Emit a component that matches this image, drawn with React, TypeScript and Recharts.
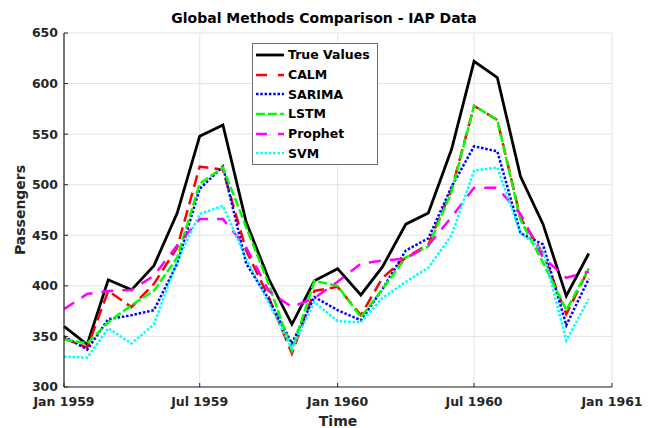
import { CartesianGrid, Line, LineChart, XAxis, YAxis } from "recharts";

const months = [
  "1959-01", "1959-02", "1959-03", "1959-04", "1959-05", "1959-06",
  "1959-07", "1959-08", "1959-09", "1959-10", "1959-11", "1959-12",
  "1960-01", "1960-02", "1960-03", "1960-04", "1960-05", "1960-06",
  "1960-07", "1960-08", "1960-09", "1960-10", "1960-11", "1960-12",
];

const trueValues = [360, 342, 406, 396, 420, 472, 548, 559, 463, 407, 362, 405, 417, 391, 419, 461, 472, 535, 622, 606, 508, 461, 390, 432];
const calm = [348, 339, 395, 379, 402, 438, 518, 515, 435, 389, 333, 395, 399, 371, 408, 428, 441, 495, 578, 564, 467, 432, 372, 417];
const sarima = [350, 337, 367, 371, 376, 422, 496, 518, 422, 387, 343, 389, 376, 366, 397, 435, 447, 498, 538, 533, 452, 441, 361, 407];
const lstm = [347, 343, 364, 381, 395, 428, 501, 517, 458, 402, 336, 405, 400, 369, 397, 428, 439, 493, 578, 564, 465, 423, 376, 417];
const prophet = [377, 392, 395, 396, 410, 440, 466, 466, 438, 395, 379, 388, 404, 422, 425, 427, 440, 468, 497, 497, 471, 428, 408, 414];
const svm = [330, 329, 358, 343, 362, 425, 471, 479, 427, 383, 338, 384, 365, 364, 388, 404, 418, 450, 514, 517, 452, 435, 346, 387];

const xTickMonths = ["1959-01", "1959-07", "1960-01", "1960-07", "1961-01"];
const xTickLabels = ["Jan 1959", "Jul 1959", "Jan 1960", "Jul 1960", "Jan 1961"];
const yTicks = [300, 350, 400, 450, 500, 550, 600, 650];

const FONT = '"DejaVu Sans", sans-serif';
const AXIS_COLOR = "#262626";

const start = Date.UTC(1959, 0, 1);
const toDay = (ym: string) => {
  const [y, m] = ym.split("-").map(Number);
  return (Date.UTC(y, m - 1, 1) - start) / 86400000;
};

const series = [
  { key: "trueValues", name: "True Values", values: trueValues, color: "#000000", width: 2.8, dash: undefined, legendDash: undefined },
  { key: "calm", name: "CALM", values: calm, color: "#ff0000", width: 2.5, dash: "12 6", legendDash: "11 11" },
  { key: "sarima", name: "SARIMA", values: sarima, color: "#0000ff", width: 2.5, dash: "2.5 1.8", legendDash: "2.5 1.8" },
  { key: "lstm", name: "LSTM", values: lstm, color: "#00ff00", width: 2.5, dash: "9 3", legendDash: "9 3" },
  { key: "prophet", name: "Prophet", values: prophet, color: "#ff00ff", width: 2.5, dash: "12 9", legendDash: "11 11" },
  { key: "svm", name: "SVM", values: svm, color: "#00ffff", width: 2.5, dash: "2.5 1.8", legendDash: "2.5 1.8" },
];

const data = months.map((m, i) => {
  const row: Record<string, number> = { t: toDay(m) };
  series.forEach((s) => (row[s.key] = s.values[i]));
  return row;
});

const xTicks = xTickMonths.map(toDay);
const tickStyle = { fill: AXIS_COLOR, fontSize: 12.5, fontWeight: "bold", fontFamily: FONT };

function ChartLegend() {
  return (
    <div
      style={{
        position: "absolute",
        left: 252,
        top: 43,
        width: 124,
        height: 119,
        border: "1px solid #6e6e6e",
        background: "#fff",
        paddingTop: 1,
        boxSizing: "content-box",
      }}
    >
      {series.map((s) => (
        <div key={s.key} style={{ display: "flex", alignItems: "center", height: 19.7 }}>
          <svg width={28} height={6} style={{ marginLeft: 3, marginRight: 4 }}>
            <line x1={0} y1={3} x2={28} y2={3} stroke={s.color} strokeWidth={s.width} strokeDasharray={s.legendDash} />
          </svg>
          <span style={{ fontFamily: FONT, fontWeight: "bold", fontSize: 12.5, color: "#000" }}>{s.name}</span>
        </div>
      ))}
    </div>
  );
}

export default function App() {
  return (
    <div style={{ position: "absolute", left: 0, top: 0, width: 658, height: 428, background: "#fff" }}>
      <div
        style={{
          position: "absolute",
          left: 0,
          width: 648,
          top: 10,
          lineHeight: "16px",
          textAlign: "center",
          fontFamily: FONT,
          fontWeight: "bold",
          fontSize: 14,
          color: "#000",
        }}
      >
        Global Methods Comparison - IAP Data
      </div>
      <LineChart width={658} height={428} data={data} margin={{ top: 33, right: 46, bottom: 0, left: 0 }}>
        <CartesianGrid stroke="#e3e3e3" strokeWidth={1} />
        <XAxis
          type="number"
          dataKey="t"
          domain={[0, 731]}
          ticks={xTicks}
          tickFormatter={(v: number) => xTickLabels[xTicks.indexOf(v)]}
          height={41}
          tickSize={-4}
          tickMargin={14}
          tick={tickStyle}
          stroke={AXIS_COLOR}
          axisLine={{ stroke: AXIS_COLOR, strokeWidth: 1.2 }}
          tickLine={{ stroke: AXIS_COLOR }}
          interval={0}
          label={{ value: "Time", position: "insideBottom", offset: 2, style: { fill: AXIS_COLOR, fontSize: 14, fontWeight: "bold", fontFamily: FONT } }}
        />
        <YAxis
          type="number"
          domain={[300, 650]}
          ticks={yTicks}
          width={64}
          tickSize={-4}
          tickMargin={10}
          tick={tickStyle}
          stroke={AXIS_COLOR}
          axisLine={{ stroke: AXIS_COLOR, strokeWidth: 1.2 }}
          tickLine={{ stroke: AXIS_COLOR }}
          interval={0}
          label={{ value: "Passengers", angle: -90, position: "insideLeft", offset: 20, style: { textAnchor: "middle", fill: AXIS_COLOR, fontSize: 14, fontWeight: "bold", fontFamily: FONT } }}
        />
        {series.map((s) => (
          <Line
            key={s.key}
            type="linear"
            dataKey={s.key}
            name={s.name}
            stroke={s.color}
            strokeWidth={s.width}
            strokeDasharray={s.dash}
            dot={false}
            activeDot={false}
            isAnimationActive={false}
          />
        ))}
      </LineChart>
      <ChartLegend />
    </div>
  );
}
